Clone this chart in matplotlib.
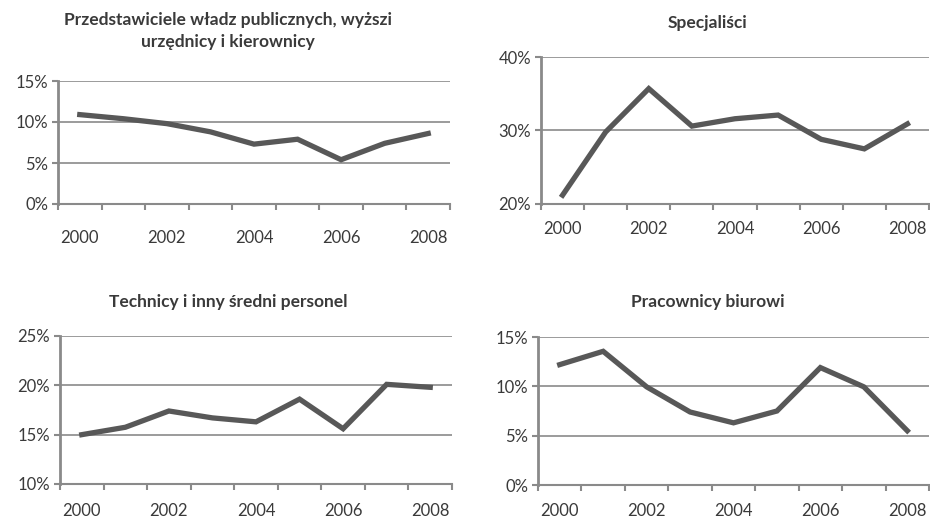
import matplotlib.pyplot as plt
from matplotlib.ticker import FixedLocator, FuncFormatter

plt.rcParams['font.family'] = ['Lato', 'DejaVu Sans']

years = [2000, 2001, 2002, 2003, 2004, 2005, 2006, 2007, 2008]

# udział grup zawodowych, %
kierownicy = [10.9, 10.4, 9.8, 8.8, 7.3, 7.9, 5.4, 7.4, 8.6]
specjalisci = [21.2, 29.8, 35.7, 30.6, 31.6, 32.1, 28.8, 27.5, 30.9]
technicy = [15.0, 15.75, 17.4, 16.7, 16.3, 18.6, 15.6, 20.1, 19.8]
biurowi = [12.2, 13.55, 9.95, 7.4, 6.3, 7.5, 11.9, 9.95, 5.5]

titles = ['Przedstawiciele władz publicznych, wyższi\nurzędnicy i kierownicy',
          'Specjaliści',
          'Technicy i inny średni personel',
          'Pracownicy biurowi']
yticks = [[0, 5, 10, 15], [20, 30, 40], [10, 15, 20, 25], [0, 5, 10, 15]]

line_col = '#585858'
grid_col = '#8a8a8a'
text_col = '#3a3a3a'

fig = plt.figure(figsize=(9.3, 5.24), dpi=100)
W, H = 930, 524

# axes boxes in pixels: left, top, right, bottom
boxes = [(58, 81, 450, 204), (541, 57, 929, 204),
         (60, 336, 452, 484), (538, 337, 929, 485)]
title_pos = [(228, 31), (708, 23), (228, 302), (708, 302)]
xpads = [19, 12, 14, 13]

series = [kierownicy, specjalisci, technicy, biurowi]

for data, title, yt, box, tp, xp in zip(series, titles, yticks, boxes, title_pos, xpads):
    l, t, r, b = box
    ax = fig.add_axes([l / W, 1 - b / H, (r - l) / W, (b - t) / H])
    x = list(range(len(years)))
    ax.plot(x, data, color=line_col, lw=3.8, solid_joinstyle='miter', zorder=3)

    ax.set_xlim(-0.5, len(years) - 0.5)
    ax.set_ylim(yt[0], yt[-1])
    ax.set_yticks(yt)
    ax.yaxis.set_major_formatter(FuncFormatter(lambda v, p: f'{v:.0f}%'))
    ax.set_xticks(x[::2])
    ax.set_xticklabels([str(y) for y in years[::2]])
    ax.xaxis.set_minor_locator(FixedLocator([i - 0.5 for i in range(len(years) + 1)]))

    ax.tick_params(axis='x', which='major', length=0, pad=xp,
                   labelsize=12, labelcolor=text_col)
    ax.tick_params(axis='x', which='minor', length=4, width=1.5,
                   color=grid_col, direction='out')
    ax.tick_params(axis='y', length=4, width=1.5, color=grid_col,
                   labelsize=12, labelcolor=text_col, pad=3)

    ax.grid(axis='y', color=grid_col, lw=1.2)
    ax.set_axisbelow(True)
    for s in ['top', 'right']:
        ax.spines[s].set_visible(False)
    ax.spines['left'].set_color(grid_col)
    ax.spines['left'].set_linewidth(2)
    ax.spines['bottom'].set_color(grid_col)
    ax.spines['bottom'].set_linewidth(1.5)

    fig.text(tp[0] / W, 1 - tp[1] / H, title, ha='center', va='center',
             fontsize=12.5, fontweight='bold', color=text_col, linespacing=1.45)

fig.savefig('out.png', dpi=100)
